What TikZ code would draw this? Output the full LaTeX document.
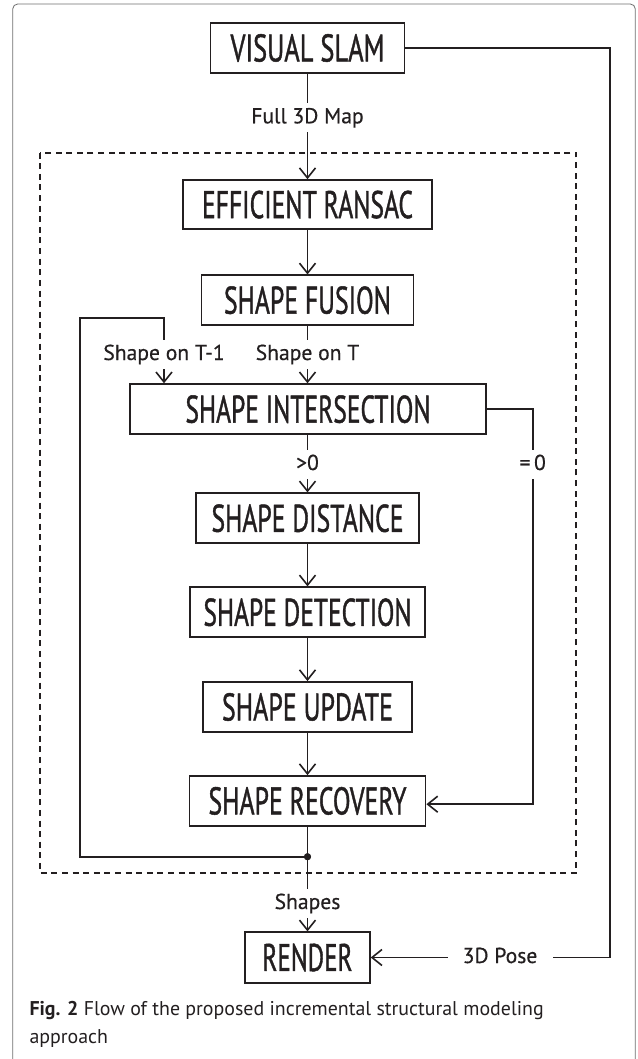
\documentclass[tikz,border=0pt]{standalone}
\usepackage{fontspec}
\setmainfont{PT Sans}
\newfontfamily\boxfont[FakeBold=1.3]{PT Sans}
\newfontfamily\lblfont[FakeBold=0.5]{PT Sans}
\usetikzlibrary{arrows.meta}
\definecolor{ink}{HTML}{231F20}
\definecolor{framecol}{HTML}{707070}
\newcommand{\bt}[2]{\resizebox{#1pt}{\height}{#2}}
\begin{document}
\begin{tikzpicture}[x=1pt,y=-1pt,
  procbox/.style={draw=ink, line width=1.8pt, fill=white, inner sep=0pt,
    minimum height=50pt, text=ink, font=\boxfont\fontsize{38.5}{40}\selectfont},
  lbl/.style={inner xsep=0pt, inner ysep=5pt, text height=15pt, text depth=4pt,
    text=ink, font=\lblfont\fontsize{21.6}{24}\selectfont},
  conn/.style={draw=ink, line width=1.6pt},
  arr/.style={conn, -{Straight Barb[length=10pt,width=16pt]}}
]
\useasboundingbox (0,0) rectangle (637,1059);
\fill[white] (0,0) rectangle (637,1059);
% outer frame (cropped at bottom)
\draw[framecol, line width=0.8pt, rounded corners=5pt] (12.7,1062) -- (12.7,4) -- (635.3,4) -- (635.3,1062);
% dashed module box
\draw[ink, line width=1.7pt, dash pattern=on 6pt off 4.6pt] (40,152.7) rectangle (576.3,872.7);

% process boxes
\node[procbox, minimum width=194pt, minimum height=49.5pt] (slam) at (307.5,48) {\bt{154}{VISUAL SLAM}};
\node[procbox, minimum width=249pt, minimum height=49pt] (ransac) at (307.5,204.6) {\bt{211}{EFFICIENT RANSAC}};
\node[procbox, minimum width=212pt, minimum height=49.7pt] (fusion) at (307.5,300.2) {\bt{167}{SHAPE FUSION}};
\node[procbox, minimum width=356pt] (inter) at (308,409.2) {\bt{245}{SHAPE INTERSECTION}};
\node[procbox, minimum width=222.6pt] (dist) at (307.5,518.3) {\bt{192}{SHAPE DISTANCE}};
\node[procbox, minimum width=234.6pt] (det) at (307.5,612.3) {\bt{208}{SHAPE DETECTION}};
\node[procbox, minimum width=208.7pt] (upd) at (307.5,707) {\bt{171}{SHAPE UPDATE}};
\node[procbox, minimum width=236pt, minimum height=49.7pt] (rec) at (307.5,800.9) {\bt{198}{SHAPE RECOVERY}};
\node[procbox, minimum width=124.6pt, minimum height=50.4pt] (render) at (307.5,957.5) {\bt{90}{RENDER}};

% labels
\node[lbl, anchor=base] (map) at (307.5,123.3) {Full 3D Map};
\node[lbl, anchor=base] (t1) at (164,360) {Shape on T-1};
\node[lbl, anchor=base] (tT) at (307.5,360) {Shape on T};
\node[lbl, anchor=base] (gt) at (307.5,470) {>0};
\node[lbl, anchor=base] (eq) at (532.7,470) {=\,0};
\node[lbl, anchor=base] (shp) at (307.5,909) {Shapes};
\node[lbl, inner xsep=15pt] (pose) at (500,957.5) {3D Pose};

% helper points
\node[circle, fill=ink, inner sep=0pt, minimum size=7pt] (dot) at (307.5,856.7) {};
\coordinate (lt) at (80,317.7);
\coordinate (pr) at (610,957.5);

% connectors
\draw[conn] (slam.south) -- (map.north);
\draw[arr] (map.south) -- (ransac.north);
\draw[arr] (ransac.south) -- (fusion.north);
\draw[conn] (fusion.south) -- (tT.north);
\draw[arr] (tT.south) -- (tT.south |- inter.north);
\draw[conn] (dot.center) -| (lt) -| (t1.north);
\draw[arr] (t1.south) -- (t1.south |- inter.north);
\draw[conn] (inter.south -| gt.north) -- (gt.north);
\draw[arr] (gt.south) -- (dist.north);
\draw[conn] (inter.east) -| (eq.north);
\draw[arr] (eq.south) |- ([yshift=-3.3pt]rec.east);
\draw[arr] (dist.south) -- (det.north);
\draw[arr] (det.south) -- (upd.north);
\draw[arr] (upd.south) -- (rec.north);
\draw[conn] (rec.south) -- (dot.center);
\draw[conn] (dot.center) -- (shp.north);
\draw[arr] (shp.south) -- (render.north);
\draw[conn] (slam.east) -| (pr) -- (pose.east);
\draw[arr] (pose.west) -- (render.east);
\node[circle, fill=ink, inner sep=0pt, minimum size=7pt] at (dot) {};

% caption
\node[anchor=base west, inner sep=0pt, text=ink, font=\fontsize{19.9}{28}\selectfont] (cap1) at (29.3,1015)
  {\textbf{Fig. 2} Flow of the proposed incremental structural modeling};
\node[anchor=base west, inner sep=0pt, text=ink, font=\fontsize{19.9}{28}\selectfont] (cap2) at (29.3,1043) {approach};
\end{tikzpicture}
\end{document}
